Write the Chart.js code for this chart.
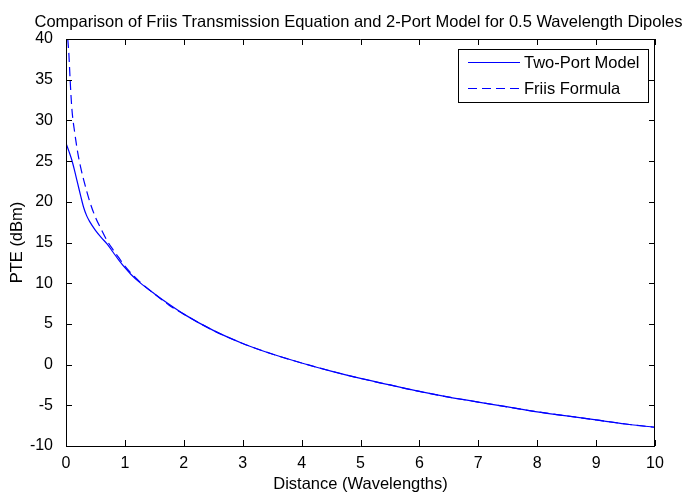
<!DOCTYPE html>
<html>
<head>
<meta charset="utf-8">
<script src="https://cdn.jsdelivr.net/npm/chart.js@4.4.0/dist/chart.umd.min.js"></script>
<style>
  html, body { margin: 0; padding: 0; background: #fff; }
  #wrap { width: 683px; height: 493px; }
</style>
</head>
<body>
<div id="wrap"><canvas id="pte-chart" width="683" height="493"></canvas></div>
<script>
const chartTitle = "Comparison of Friis Transmission Equation and 2-Port Model for 0.5 Wavelength Dipoles";
const xLabel = "Distance (Wavelengths)";
const yLabel = "PTE (dBm)";

// Two-Port Model (solid)
const twoPortX = [0.01, 0.05, 0.1, 0.15, 0.2, 0.25, 0.3, 0.35, 0.4, 0.5, 0.6, 0.7, 0.8, 0.9, 1.0, 1.1, 1.25, 1.5, 1.75, 2,
                  2.5, 3, 3.5, 4, 4.5, 5, 5.5, 6, 6.5, 7, 7.5, 8, 8.5, 9, 9.5, 10];
const twoPortY = [27.0, 26.2, 25.1, 23.7, 22.2, 20.7, 19.3, 18.3, 17.6, 16.5, 15.6, 14.8, 13.8, 12.8, 11.9, 11.1, 10.1, 8.7, 7.4, 6.2,
                  4.2, 2.6, 1.3, 0.2, -0.8, -1.7, -2.5, -3.3, -4.0, -4.6, -5.2, -5.8, -6.3, -6.8, -7.3, -7.7];

// Friis Formula (dashed)
const friisX = [0.03, 0.05, 0.07, 0.1, 0.15, 0.2, 0.25, 0.3, 0.4, 0.5, 0.6, 0.7, 0.8, 0.9, 1.0, 1.25, 1.5, 1.75, 2,
                2.5, 3, 3.5, 4, 4.5, 5, 5.5, 6, 6.5, 7, 7.5, 8, 8.5, 9, 9.5, 10];
const friisY = [40.0, 38.0, 35.0, 31.4, 28.4, 26.0, 24.2, 22.7, 20.1, 18.1, 16.6, 15.2, 14.1, 13.1, 12.1, 10.2, 8.7, 7.3, 6.2,
                4.2, 2.6, 1.3, 0.2, -0.8, -1.7, -2.5, -3.3, -4.0, -4.6, -5.2, -5.8, -6.3, -6.8, -7.3, -7.7];

const xTicks = [0, 1, 2, 3, 4, 5, 6, 7, 8, 9, 10];
const yTicks = [-10, -5, 0, 5, 10, 15, 20, 25, 30, 35, 40];

const FONT = { family: "'Liberation Sans', Arial, sans-serif", size: 16 };
const FONT_BIG = { family: "'Liberation Sans', Arial, sans-serif", size: 16.5 };
const BLUE = "#0000ff";

function toPoints(xs, ys) {
    return xs.map((x, i) => ({ x: x, y: ys[i] }));
}

// MATLAB-like box, inward ticks, title and legend
const matlabBox = {
    id: 'matlabBox',
    afterDraw(chart) {
        const ctx = chart.ctx;
        const a = chart.chartArea;
        const xs = chart.scales.x, ys = chart.scales.y;
        const tl = 6;
        ctx.save();
        ctx.strokeStyle = "#000";
        ctx.lineWidth = 1;
        ctx.beginPath();
        ctx.rect(a.left + 0.5, a.top + 0.5, a.right - a.left - 1, a.bottom - a.top);
        xTicks.forEach(v => {
            const px = Math.round(xs.getPixelForValue(v)) + 0.5;
            ctx.moveTo(px, a.bottom); ctx.lineTo(px, a.bottom - tl);
            ctx.moveTo(px, a.top); ctx.lineTo(px, a.top + tl);
        });
        yTicks.forEach(v => {
            const py = Math.round(ys.getPixelForValue(v)) + 0.5;
            ctx.moveTo(a.left, py); ctx.lineTo(a.left + tl, py);
            ctx.moveTo(a.right, py); ctx.lineTo(a.right - tl, py);
        });
        ctx.stroke();

        // title
        ctx.fillStyle = "#000";
        ctx.font = `${FONT_BIG.size}px ${FONT_BIG.family}`;
        ctx.textAlign = "center";
        ctx.textBaseline = "alphabetic";
        ctx.fillText(chartTitle, (a.left + a.right) / 2 - 2, 27);

        // legend
        const lx = a.right - 197, ly = a.top + 10, lw = 190, lh = 53;
        ctx.fillStyle = "#fff";
        ctx.fillRect(lx, ly, lw, lh);
        ctx.strokeRect(lx + 0.5, ly + 0.5, lw, lh);
        chart.data.datasets.forEach((ds, i) => {
            const rowY = ly + 13 + i * 26;
            ctx.strokeStyle = ds.borderColor;
            ctx.lineWidth = ds.borderWidth;
            ctx.setLineDash(ds.borderDash || []);
            ctx.beginPath();
            ctx.moveTo(lx + 10, rowY + 0.5);
            ctx.lineTo(lx + 62, rowY + 0.5);
            ctx.stroke();
            ctx.setLineDash([]);
            ctx.fillStyle = "#000";
            ctx.textAlign = "left";
            ctx.textBaseline = "middle";
            ctx.fillText(ds.label, lx + 66, rowY + 1);
        });
        ctx.restore();
    }
};

new Chart(document.getElementById('pte-chart').getContext('2d'), {
    type: 'line',
    data: {
        datasets: [
            {
                label: "Two-Port Model",
                data: toPoints(twoPortX, twoPortY),
                borderColor: BLUE,
                borderWidth: 1.2,
                pointRadius: 0,
                fill: false,
                cubicInterpolationMode: 'monotone',
            },
            {
                label: "Friis Formula",
                data: toPoints(friisX, friisY),
                borderColor: BLUE,
                borderWidth: 1.2,
                borderDash: [9, 5],
                pointRadius: 0,
                fill: false,
                cubicInterpolationMode: 'monotone',
            },
        ]
    },
    options: {
        responsive: false,
        animation: false,
        layout: { padding: { left: 0, right: 28, top: 39, bottom: 0 } },
        plugins: {
            legend: { display: false },
            title: { display: false },
            tooltip: { enabled: false },
        },
        scales: {
            x: {
                type: 'linear',
                min: 0, max: 10,
                grid: { display: false },
                border: { display: false },
                ticks: { stepSize: 1, color: "#000", font: FONT, padding: 0, maxRotation: 0 },
                title: { display: true, text: xLabel, color: "#000", font: FONT_BIG, padding: { top: 0, bottom: -1 } },
                afterFit: (s) => { s.height = 47; },
            },
            y: {
                type: 'linear',
                min: -10, max: 40,
                grid: { display: false },
                border: { display: false },
                ticks: { stepSize: 5, color: "#000", font: FONT, padding: 5 },
                title: { display: true, text: yLabel, color: "#000", font: FONT_BIG, padding: { top: 8, bottom: 0 } },
                afterFit: (s) => { s.width = 66; },
            },
        },
    },
    plugins: [matlabBox],
});
</script>
</body>
</html>
